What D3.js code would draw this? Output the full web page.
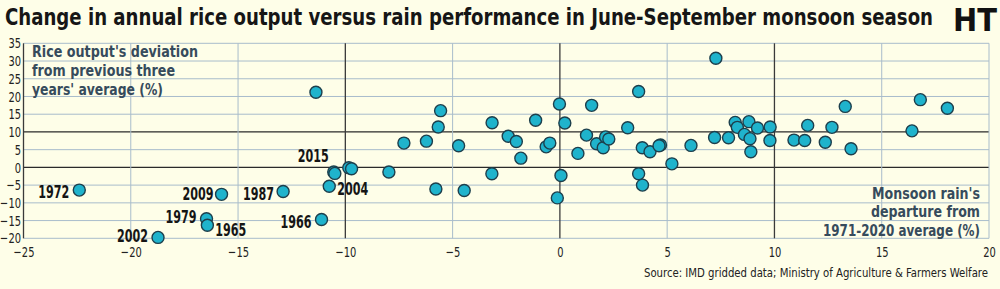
<!DOCTYPE html>
<html>
<head>
<meta charset="utf-8">
<script src="https://cdn.jsdelivr.net/npm/d3@7"></script>
<style>
  html, body { margin: 0; padding: 0; background: #fefee8; }
  svg { display: block; }
  text { font-family: "Liberation Sans Narrow", "DejaVu Sans Condensed", "Roboto", sans-serif; }
</style>
</head>
<body>
<svg id="chart" width="1000" height="289"></svg>
<script>
// monsoon rain departure from 1971-2020 average (%)
const rain = [
  -22.4, -18.73, -16.47, -16.43, -15.77, -12.9, -11.11, -11.37, -10.54, -10.49,
  -10.75, -9.84, -9.71, -7.97, -7.27, -6.22, -5.78, -5.67, -5.56, -4.72,
  -4.46, -3.16, -3.17, -2.41, -2.03, -1.82, -1.13, -0.64, -0.47, -0.12,
  -0.02, 0.05, 0.23, 0.84, 1.24, 1.48, 1.71, 2.02, 2.13, 2.28,
  3.16, 3.67, 3.67, 3.84, 3.85, 4.2, 4.69, 4.62, 5.22, 6.11,
  7.27, 7.21, 7.86, 8.17, 8.27, 8.6, 8.81, 8.86, 8.9, 9.21,
  9.8, 9.79, 10.91, 11.41, 11.55, 12.37, 12.68, 13.3, 13.57, 16.41,
  16.8, 18.06
];
// rice output deviation from previous three years' average (%)
const rice = [
  -6.4, -19.75, -14.5, -16.3, -7.6, -6.8, -14.7, 21.2, -1.3, -1.7,
  -5.3, -0.1, -0.4, -1.3, 6.85, 7.4, -6.1, 11.4, 16.0, 6.1,
  -6.5, 12.6, -1.8, 8.8, 7.3, 2.6, 13.3, 5.8, 6.85, -8.6,
  17.9, -2.3, 12.5, 3.95, 9.1, 17.5, 6.65, 5.55, 8.6, 8.0,
  11.2, 21.4, -1.8, 5.55, -5.0, 4.4, 6.3, 6.1, 1.0, 6.2,
  30.8, 8.45, 8.35, 12.7, 11.3, 9.3, 12.9, 8.1, 4.4, 11.1,
  11.4, 7.6, 7.7, 7.6, 11.85, 7.1, 11.3, 17.2, 5.25, 10.3,
  19.1, 16.7
];
// labelled years and the index of their point
const labelYears = ['1972', '2002', '1979', '1965', '2009', '1987', '1966', '2015', '2004'];
const labelPoint = [0, 1, 2, 3, 4, 5, 6, 8, 10];

const xTicks = [-25, -20, -15, -10, -5, 0, 5, 10, 15, 20];
const yTicks = [-20, -15, -10, -5, 0, 5, 10, 15, 20, 25, 30, 35];
const darkX = [-25, -10, 0, 10];
const darkY = [0, 10];

const title = 'Change in annual rice output versus rain performance in June-September monsoon season';
const yTitle = ["Rice output's deviation", 'from previous three', "years' average (%)"];
const xTitle = ["Monsoon rain's", 'departure from', '1971-2020 average (%)'];
const source = 'Source: IMD gridded data; Ministry of Agriculture & Farmers Welfare';

const svg = d3.select('#chart');
const x = d3.scaleLinear().domain([-25, 20]).range([23.5, 989]);
const y = d3.scaleLinear().domain([-20, 35]).range([238.3, 43.3]);

// squeeze a text to a fraction of its natural width (the reference font is condensed)
function condense(sel, k) {
  sel.each(function () {
    const w = this.getComputedTextLength();
    d3.select(this).attr('textLength', w * k).attr('lengthAdjust', 'spacingAndGlyphs');
  });
}

// grid
const grid = svg.append('g');
grid.selectAll('line.gy').data(yTicks).enter().append('line')
  .attr('x1', x(-25)).attr('x2', x(20))
  .attr('y1', d => y(d)).attr('y2', d => y(d))
  .attr('stroke', d => darkY.includes(d) ? '#2a2a2a' : '#a8bccb')
  .attr('stroke-width', d => darkY.includes(d) ? 1.3 : 1);
grid.selectAll('line.gx').data(xTicks).enter().append('line')
  .attr('y1', y(-20)).attr('y2', y(35))
  .attr('x1', d => x(d)).attr('x2', d => x(d))
  .attr('stroke', d => darkX.includes(d) ? '#3a3a3a' : '#a8bccb')
  .attr('stroke-width', d => darkX.includes(d) ? 1.3 : 1);

// axes
const yAxis = svg.append('g').attr('transform', 'translate(21,0)')
  .call(d3.axisLeft(y).tickValues(yTicks).tickSize(0).tickPadding(0));
const xAxis = svg.append('g').attr('transform', `translate(0,${y(-20)})`)
  .call(d3.axisBottom(x).tickValues(xTicks).tickSize(0).tickPadding(8));
[yAxis, xAxis].forEach(a => {
  a.select('.domain').remove();
  a.selectAll('text').attr('font-size', 14.5).attr('fill', '#222').call(condense, 0.76);
});

// axis titles
const yTitleW = [166, 143, 131];
const xTitleW = [108, 109, 157];
svg.append('text').attr('x', 32).attr('y', 57)
  .attr('font-size', 16.5).attr('font-weight', 'bold').attr('fill', '#364b5c')
  .selectAll('tspan').data(yTitle).enter().append('tspan')
  .attr('x', 32).attr('dy', (d, i) => i ? 18.8 : 0)
  .attr('textLength', (d, i) => yTitleW[i]).attr('lengthAdjust', 'spacingAndGlyphs')
  .text(d => d);
svg.append('text').attr('x', 980).attr('y', 199).attr('text-anchor', 'end')
  .attr('font-size', 16.5).attr('font-weight', 'bold').attr('fill', '#364b5c')
  .selectAll('tspan').data(xTitle).enter().append('tspan')
  .attr('x', 980).attr('dy', (d, i) => i ? 18.4 : 0)
  .attr('textLength', (d, i) => xTitleW[i]).attr('lengthAdjust', 'spacingAndGlyphs')
  .text(d => d);

// points
svg.append('g').selectAll('circle').data(rain).enter().append('circle')
  .attr('cx', d => x(d)).attr('cy', (d, i) => y(rice[i]))
  .attr('r', 6)
  .attr('fill', '#1fb3cc').attr('stroke', '#1d3f4c').attr('stroke-width', 1.4);

// year labels
const labelPlace = {
  '1972': [-10, 2, 'end'], '2002': [-10, -1.5, 'end'], '1979': [-10, -2, 'end'],
  '1965': [8, 5, 'start'], '2009': [-8, 0, 'end'], '1987': [-9, 2.5, 'end'],
  '1966': [-10, 2.5, 'end'], '2015': [-5, -15.5, 'end'], '2004': [8, 2.5, 'start']
};
svg.append('g').selectAll('text').data(labelYears).enter().append('text')
  .attr('x', (d, i) => x(rain[labelPoint[i]]) + labelPlace[d][0])
  .attr('y', (d, i) => y(rice[labelPoint[i]]) + labelPlace[d][1])
  .attr('dy', '0.35em')
  .attr('text-anchor', d => labelPlace[d][2])
  .attr('font-size', 17).attr('font-weight', 'bold').attr('fill', '#151515')
  .attr('textLength', 31).attr('lengthAdjust', 'spacingAndGlyphs')
  .text(d => d);

// title, logo, source
svg.append('text').attr('x', 5).attr('y', 25)
  .attr('font-size', 23).attr('font-weight', 'bold').attr('fill', '#161616')
  .attr('textLength', 928).attr('lengthAdjust', 'spacingAndGlyphs')
  .text(title);
svg.append('text').attr('x', 975).attr('y', 31).attr('text-anchor', 'middle')
  .attr('font-family', '"DejaVu Serif", serif').attr('font-size', 32)
  .attr('font-weight', 'bold').attr('fill', '#111')
  .attr('textLength', 44).attr('lengthAdjust', 'spacingAndGlyphs')
  .text('HT');
svg.append('text').attr('x', 988).attr('y', 277).attr('text-anchor', 'end')
  .attr('font-size', 12.5).attr('fill', '#222')
  .attr('textLength', 344).attr('lengthAdjust', 'spacingAndGlyphs')
  .text(source);
</script>
</body>
</html>
